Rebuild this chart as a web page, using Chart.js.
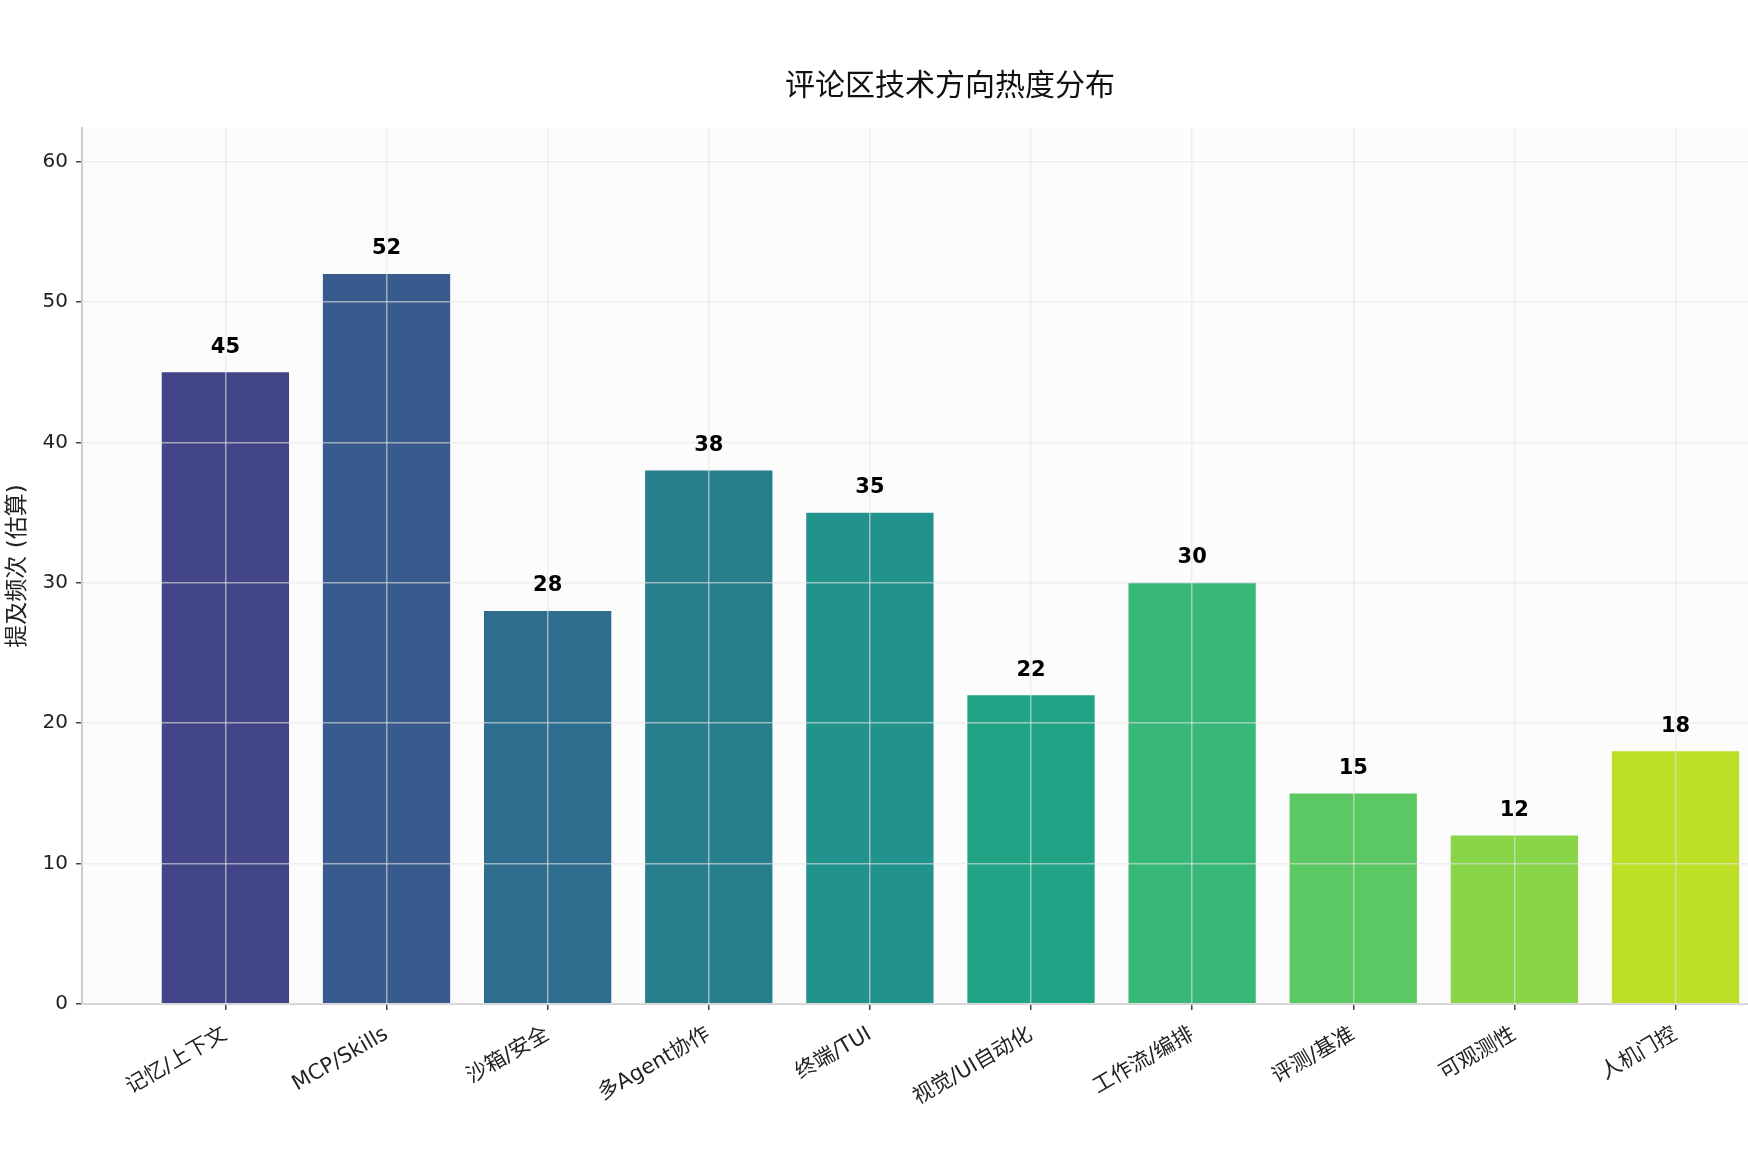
<!DOCTYPE html>
<html>
<head>
<meta charset="utf-8">
<script src="https://cdn.jsdelivr.net/npm/chart.js@4/dist/chart.umd.min.js"></script>
<style>
  html, body { margin: 0; padding: 0; background: #fff; }
  #wrap { width: 1748px; height: 1170px; }
</style>
</head>
<body>
<div id="wrap"><canvas id="chart-heat"></canvas></div>
<script>
// 评论区技术方向热度分布
const titleText = "评论区技术方向热度分布";
const yTitle = "提及频次 (估算)";
const categories = ["记忆/上下文", "MCP/Skills", "沙箱/安全", "多Agent协作", "终端/TUI",
                    "视觉/UI自动化", "工作流/编排", "评测/基准", "可观测性", "人机门控"];
const counts = [45, 52, 28, 38, 35, 22, 30, 15, 12, 18];
const barColors = ["#424587", "#385a8c", "#2e6d8e", "#277f8e", "#21928c",
                   "#21a486", "#37b878", "#5bc863", "#88d548", "#bddf26"];
const yTicks = [0, 10, 20, 30, 40, 50, 60];

const FONT = '"DejaVu Sans", "Noto Sans CJK SC", sans-serif';
Chart.defaults.font.family = FONT;
Chart.defaults.color = "#222";

const bgPlugin = {
    id: "bg",
    beforeDraw(chart) {
        const { ctx, chartArea: a } = chart;
        ctx.save();
        ctx.fillStyle = "#ffffff";
        ctx.fillRect(0, 0, chart.width, chart.height);
        ctx.fillStyle = "#fcfcfc";
        ctx.fillRect(a.left, a.top, a.right - a.left, a.bottom - a.top);
        ctx.restore();
    },
};

const labelPlugin = {
    id: "barLabels",
    afterDraw(chart) {
        const { ctx } = chart;
        const meta = chart.getDatasetMeta(0);
        ctx.save();
        ctx.font = "bold 21px " + FONT;
        ctx.fillStyle = "#000";
        ctx.textAlign = "center";
        ctx.textBaseline = "middle";
        meta.data.forEach((bar, i) => {
            ctx.fillText(String(counts[i]), bar.x, bar.y - 25);
        });
        // title
        ctx.font = "30px " + FONT;
        ctx.fillStyle = "#111";
        ctx.fillText(titleText, 950, 87);
        ctx.restore();
    },
};

const dataHeat = {
    datasets: [
        {
            data: counts.map((v, i) => ({ x: i, y: v })),
            backgroundColor: barColors,
            barPercentage: 0.79,
            categoryPercentage: 1.0,
            borderWidth: 0,
        },
    ],
};

const gridStyle = {
    color: "rgba(228,228,228,0.6)",
    lineWidth: 1.5,
    tickLength: 6,
    tickColor: "#444",
    tickWidth: 1.5,
    offset: false,
    z: 1,
};

const configHeat = {
    type: "bar",
    data: dataHeat,
    plugins: [bgPlugin, labelPlugin],
    options: {
        responsive: true,
        maintainAspectRatio: false,
        animation: false,
        devicePixelRatio: 1,
        layout: { padding: { top: 128, right: 0, left: 0, bottom: 0 } },
        plugins: {
            legend: { display: false },
            tooltip: { enabled: false },
            title: { display: false },
        },
        scales: {
            x: {
                type: "linear",
                min: -0.89,
                max: 9.45,
                offset: false,
                afterBuildTicks(scale) {
                    scale.ticks = categories.map((_, i) => ({ value: i }));
                },
                afterFit(scale) { scale.height = 166; },
                ticks: {
                    autoSkip: false,
                    maxRotation: 30,
                    minRotation: 30,
                    padding: 12,
                    font: { size: 21 },
                    color: "#222",
                    callback: (v) => categories[v] ?? "",
                },
                grid: gridStyle,
                border: { color: "#cccccc", width: 2, z: 1 },
            },
            y: {
                min: 0,
                max: 62.4,
                afterBuildTicks(scale) {
                    scale.ticks = yTicks.map((v) => ({ value: v }));
                },
                afterFit(scale) { scale.width = 82; },
                ticks: {
                    padding: 8,
                    font: { size: 20 },
                    color: "#222",
                },
                grid: gridStyle,
                border: { color: "#cccccc", width: 2, z: 1 },
                title: {
                    display: true,
                    text: yTitle,
                    font: { size: 23 },
                    color: "#222",
                    padding: { top: 4, bottom: 4 },
                },
            },
        },
    },
};

new Chart(document.getElementById("chart-heat"), configHeat);
</script>
</body>
</html>
